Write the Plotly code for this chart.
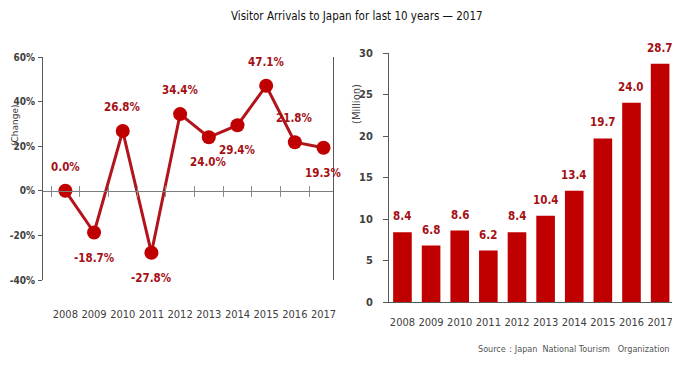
import plotly.graph_objects as go

years = ["2008", "2009", "2010", "2011", "2012", "2013", "2014", "2015", "2016", "2017"]
change_pct = [0.0, -18.7, 26.8, -27.8, 34.4, 24.0, 29.4, 47.1, 21.8, 19.3]
change_label_side = ["above", "below", "above", "below", "above", "below", "below", "above", "above", "below"]
arrivals_million = [8.4, 6.8, 8.6, 6.2, 8.4, 10.4, 13.4, 19.7, 24.0, 28.7]
left_yticks = [-40, -20, 0, 20, 40, 60]
right_yticks = [0, 5, 10, 15, 20, 25, 30]

FONT = "DejaVu Sans Condensed"
RED = "#C00000"
LINE_RED = "#B2141C"
LABEL_RED = "#A50F15"
GREY = "#404040"

# page is 680x367; the page body has an 8px margin, so the figure is 672x359
PAGE_W, PAGE_H, OFF = 680, 367, 8
W, H = PAGE_W - OFF, PAGE_H - OFF
def px_x(x):
    return (x - OFF) / W
def px_y(y):
    return (PAGE_H - y) / H

L_DOM_X = [px_x(43), px_x(333)]
L_DOM_Y = [px_y(280), px_y(57)]
R_DOM_X = [px_x(389), px_x(673)]
R_DOM_Y = [px_y(302), px_y(53)]
L_RANGE_Y = [-40, 60]
xi = list(range(len(years)))

fig = go.Figure()

fig.add_trace(go.Scatter(
    x=xi, y=change_pct, mode="lines+markers",
    line=dict(color=LINE_RED, width=3),
    marker=dict(color=RED, size=14),
    xaxis="x", yaxis="y", showlegend=False, hoverinfo="skip",
))

fig.add_trace(go.Bar(
    x=xi, y=arrivals_million, marker=dict(color=RED, line=dict(width=0)),
    xaxis="x2", yaxis="y2", showlegend=False, hoverinfo="skip",
))

annotations = []
for i, (v, side) in enumerate(zip(change_pct, change_label_side)):
    annotations.append(dict(
        x=i, y=v, xref="x", yref="y", text=f"{v:.1f}%", showarrow=False,
        yshift=24 if side == "above" else -25,
        font=dict(family=FONT, size=11.5, color=LABEL_RED, weight="bold"),
    ))
for i, v in enumerate(arrivals_million):
    annotations.append(dict(
        x=i, y=v, xref="x2", yref="y2", text=f"{v:.1f}", showarrow=False,
        yanchor="bottom", yshift=7,
        font=dict(family=FONT, size=11.5, color=LABEL_RED, weight="bold"),
    ))

annotations += [
    dict(text="Visitor Arrivals to Japan for last 10 years — 2017", x=px_x(357), y=px_y(16),
         xref="paper", yref="paper", showarrow=False, xanchor="center", yanchor="middle",
         font=dict(family=FONT, size=11.5, color="#111111")),
    dict(text="(Change)", x=0, y=px_y(126), xref="paper", yref="paper", textangle=-90,
         showarrow=False, xanchor="left", yanchor="middle",
         font=dict(family="DejaVu Sans", size=9, color=GREY)),
    dict(text="(Million)", x=px_x(357), y=px_y(104), xref="paper", yref="paper", textangle=-90,
         showarrow=False, xanchor="center", yanchor="middle",
         font=dict(family="DejaVu Sans", size=10, color=GREY)),
    dict(text="Source：Japan  National Tourism   Organization", x=px_x(671), y=px_y(349),
         xref="paper", yref="paper", showarrow=False, xanchor="right", yanchor="middle",
         font=dict(family=FONT, size=9, color="#555555")),
]

zero_pos = L_DOM_Y[0] + (0 - L_RANGE_Y[0]) / (L_RANGE_Y[1] - L_RANGE_Y[0]) * (L_DOM_Y[1] - L_DOM_Y[0])
left_xrange = [-0.78, 9.33]
tickfont = dict(family=FONT, size=11, color=GREY)
ytickfont = dict(family=FONT, size=11, color=GREY, weight="bold")
ltickfont = dict(family=FONT, size=10, color=GREY, weight="bold")

fig.update_layout(
    template="none",
    width=W, height=H, margin=dict(l=0, r=0, t=0, b=0, pad=0),
    paper_bgcolor="white", plot_bgcolor="white",
    annotations=annotations, bargap=0.35, showlegend=False,
    xaxis=dict(domain=L_DOM_X, range=left_xrange, tickvals=xi, ticktext=years, tickangle=0,
               showline=False, showgrid=False, zeroline=False, ticks="", automargin=False,
               ticklabelstandoff=26, anchor="y", tickfont=tickfont),
    yaxis=dict(domain=L_DOM_Y, range=L_RANGE_Y, tickvals=left_yticks,
               ticktext=[f"{t}%" for t in left_yticks], showgrid=False, zeroline=False,
               showline=True, linecolor="#595959", linewidth=1, mirror=True, automargin=False,
               ticks="outside", ticklen=4, tickcolor="#595959", ticklabelstandoff=1,
               anchor="x", tickfont=ltickfont),
    xaxis3=dict(domain=L_DOM_X, range=left_xrange, overlaying="x", anchor="free", position=zero_pos,
                tickvals=[i - 0.5 for i in xi], showticklabels=False, showgrid=False, zeroline=False,
                showline=True, linecolor="#7f7f7f", linewidth=1, automargin=False,
                ticks="outside", ticklen=5, tickcolor="#8c8c8c"),
    xaxis4=dict(domain=L_DOM_X, range=left_xrange, overlaying="x", anchor="free", position=zero_pos,
                tickvals=[i - 0.5 for i in xi], showticklabels=False, showgrid=False, zeroline=False,
                showline=False, ticks="inside", ticklen=5, tickcolor="#8c8c8c", automargin=False),
    xaxis2=dict(domain=R_DOM_X, range=[-0.47, 9.45], tickvals=xi, ticktext=years, tickangle=0,
                showline=True, linecolor="#595959", linewidth=1, showgrid=False, zeroline=False,
                ticks="", ticklabelstandoff=10, anchor="y2", tickfont=tickfont, automargin=False),
    yaxis2=dict(domain=R_DOM_Y, range=[0, 30], tickvals=right_yticks, showgrid=False, zeroline=False,
                showline=True, linecolor="#595959", linewidth=1, ticks="outside", ticklen=5,
                tickcolor="#595959", ticklabelstandoff=8, anchor="x2", tickfont=ytickfont,
                automargin=False),
)

fig.add_trace(go.Scatter(x=[None], y=[None], xaxis="x3", yaxis="y", showlegend=False, hoverinfo="skip"))
fig.add_trace(go.Scatter(x=[None], y=[None], xaxis="x4", yaxis="y", showlegend=False, hoverinfo="skip"))

fig.write_html("out.html")
